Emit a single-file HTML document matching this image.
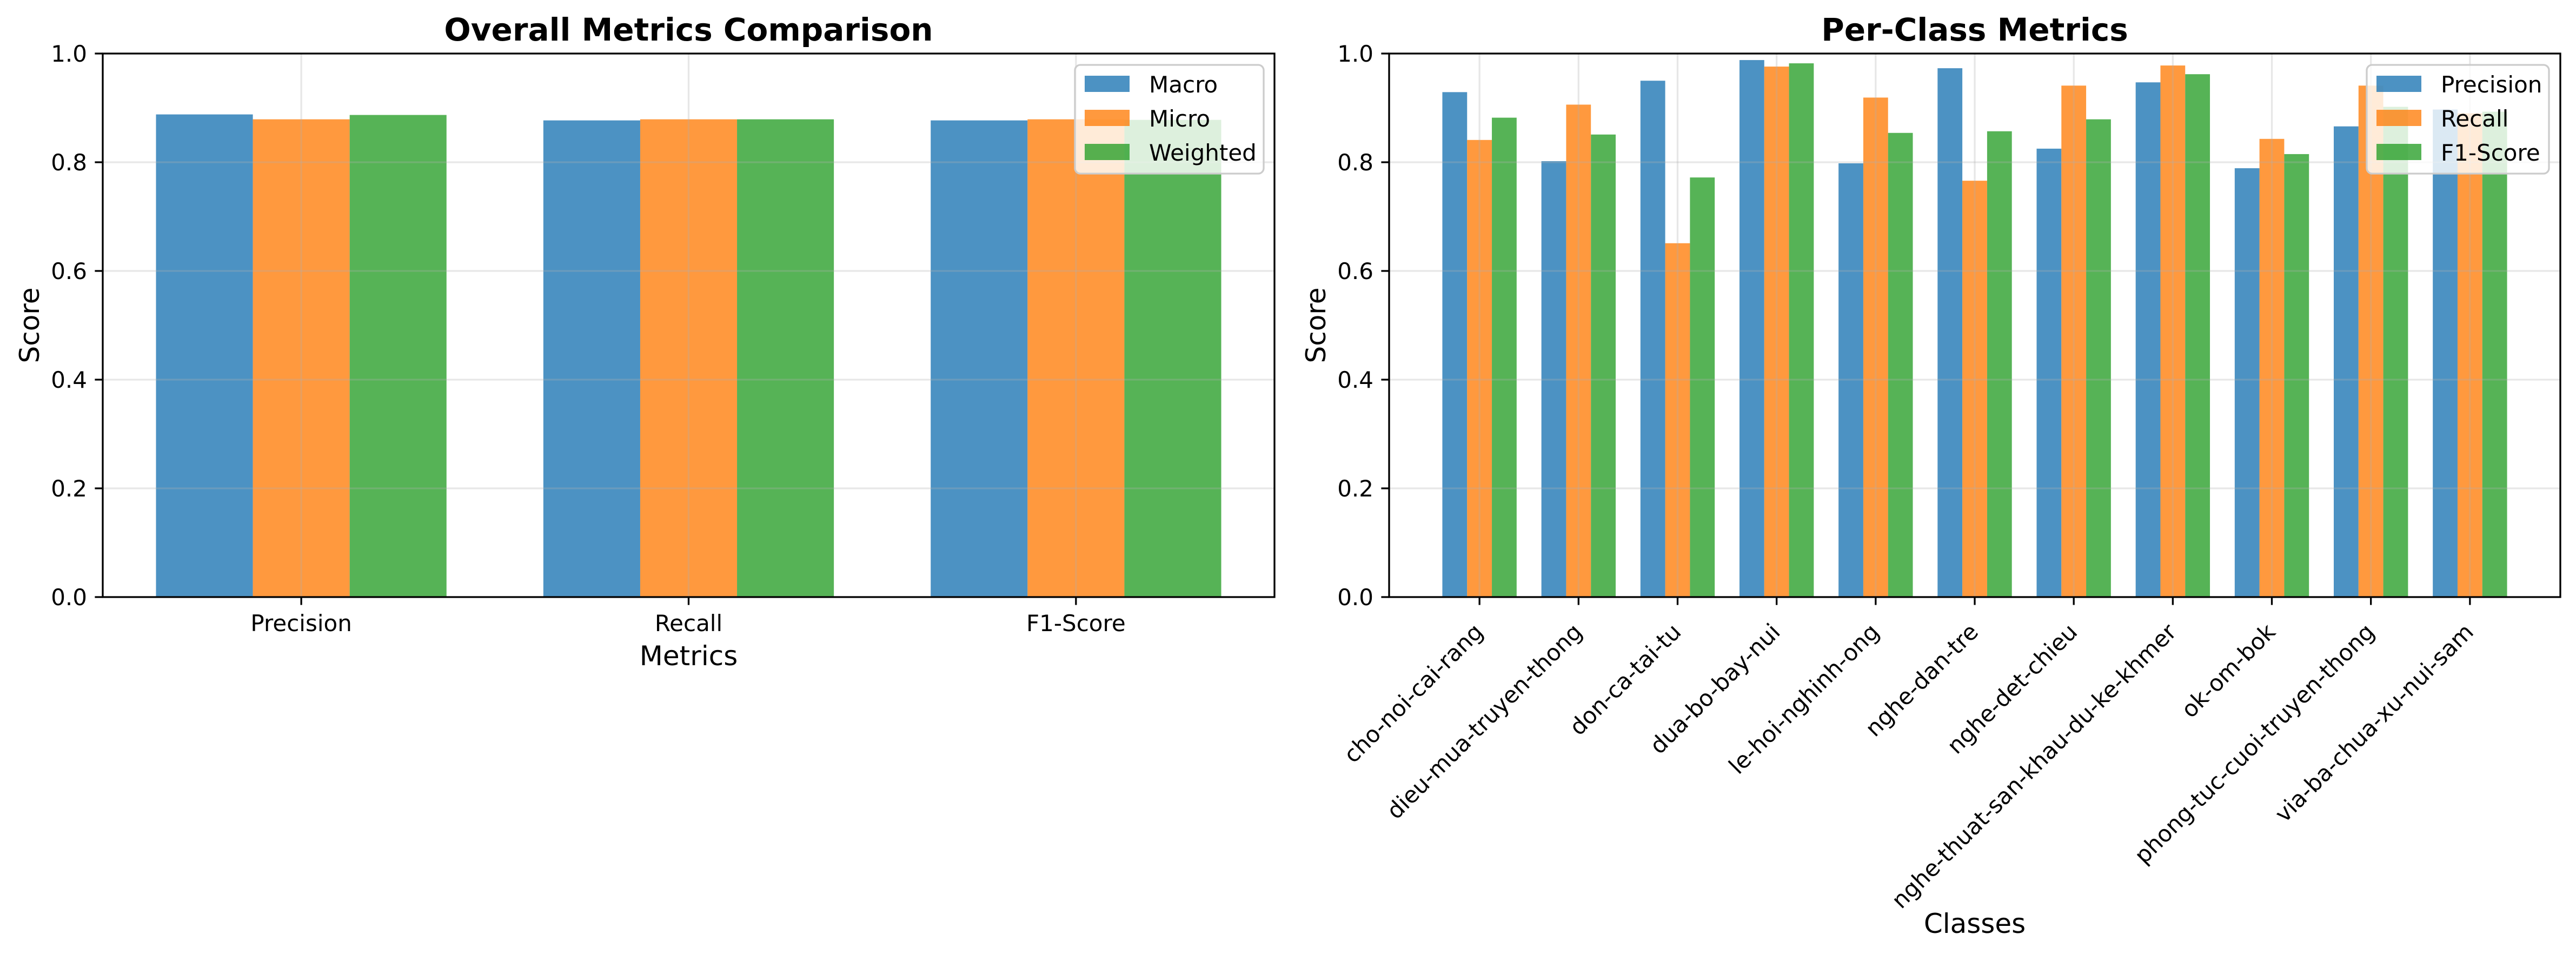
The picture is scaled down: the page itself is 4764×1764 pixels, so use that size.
<!DOCTYPE html>
<html><head><meta charset="utf-8"><style>
html,body{margin:0;padding:0;background:#fff}
svg{display:block;font-family:"DejaVu Sans","Liberation Sans",sans-serif}
</style></head><body>
<svg id="chart" width="4764" height="1764" viewBox="0 0 4764 1764" xmlns="http://www.w3.org/2000/svg"></svg>
<script>
const overallCategories = ["Precision","Recall","F1-Score"];
const overallSeriesNames = ["Macro","Micro","Weighted"];
const overallMacro = [0.888,0.877,0.877];
const overallMicro = [0.879,0.879,0.879];
const overallWeighted = [0.887,0.879,0.878];
const classCategories = ["cho-noi-cai-rang","dieu-mua-truyen-thong","don-ca-tai-tu","dua-bo-bay-nui","le-hoi-nghinh-ong","nghe-dan-tre","nghe-det-chieu","nghe-thuat-san-khau-du-ke-khmer","ok-om-bok","phong-tuc-cuoi-truyen-thong","via-ba-chua-xu-nui-sam"];
const classSeriesNames = ["Precision","Recall","F1-Score"];
const classPrecision = [0.929,0.802,0.950,0.988,0.798,0.973,0.825,0.947,0.789,0.866,0.897];
const classRecall = [0.841,0.906,0.651,0.976,0.919,0.766,0.941,0.978,0.843,0.941,0.890];
const classF1 = [0.882,0.851,0.772,0.982,0.854,0.857,0.879,0.962,0.815,0.902,0.893];
const yTicks = [0,0.2,0.4,0.6,0.8,1.0];
const yTickLabels = ["0.0","0.2","0.4","0.6","0.8","1.0"];

const NS="http://www.w3.org/2000/svg";
const svg=document.getElementById('chart');
const COLORS=["#1f77b4","#ff7f0e","#2ca02c"];
function mk(tag,attrs,parent){const e=document.createElementNS(NS,tag);for(const k in attrs)e.setAttribute(k,attrs[k]);(parent||svg).appendChild(e);return e;}

function drawPanel(o){
  const g=mk('g',{});
  
  
  const n=o.cats.length;
  const xmin=-0.375-0.05*(n-1+0.75), xmax=n-1+0.375+0.05*(n-1+0.75);
  const X=v=>o.left+(v-xmin)/(xmax-xmin)*(o.right-o.left);
  const Y=v=>o.bottom-v*(o.bottom-o.top);
  const w=X(0.25)-X(0);
  o.series.forEach((vals,si)=>{
    vals.forEach((v,i)=>{
      const x0=X(i+(si-1)*0.25-0.125);
      const r=mk('rect',{x:x0,y:Y(v),width:w,height:Y(0)-Y(v),fill:COLORS[si],'fill-opacity':0.8},g);
      
      
    });
  });
  yTicks.forEach(t=>{const l=mk('line',{x1:o.left,x2:o.right,y1:Y(t),y2:Y(t),stroke:'#b0b0b0','stroke-opacity':0.3,'stroke-width':3.3},g);
    });
  o.cats.forEach((c,i)=>{const l=mk('line',{x1:X(i),x2:X(i),y1:o.top,y2:o.bottom,stroke:'#b0b0b0','stroke-opacity':0.3,'stroke-width':3.3},g);
    });
  const sp=mk('rect',{x:o.left,y:o.top,width:o.right-o.left,height:o.bottom-o.top,fill:'none',stroke:'#000','stroke-width':3.3},g);
  
  yTicks.forEach((t,i)=>{
    mk('line',{x1:o.left-14.6,x2:o.left,y1:Y(t),y2:Y(t),stroke:'#000','stroke-width':3.3},g);
    const tx=mk('text',{x:o.left-29,y:Y(t)+15,'text-anchor':'end','font-size':42},g);
    tx.textContent=yTickLabels[i];
    
  });
  o.cats.forEach((c,i)=>{
    mk('line',{x1:X(i),x2:X(i),y1:o.bottom,y2:o.bottom+14.6,stroke:'#000','stroke-width':3.3},g);
    let tx;
    if(o.rotate){
      const ax=X(i)+9, ay=o.bottom+67;
      tx=mk('text',{x:ax,y:ay,'text-anchor':'end','font-size':42,transform:`rotate(-45 ${ax} ${ay})`},g);
    } else {
      tx=mk('text',{x:X(i),y:o.bottom+63,'text-anchor':'middle','font-size':42},g);
    }
    tx.textContent=c;
    
  });
  const cx=(o.left+o.right)/2;
  const ti=mk('text',{x:cx,y:75,'text-anchor':'middle','font-size':58,'font-weight':'bold'},g);
  ti.textContent=o.title;
  const xl=mk('text',{x:cx,y:o.xlabelY,'text-anchor':'middle','font-size':50},g);
  xl.textContent=o.xlabel;
  const ylx=o.left-118, yly=(o.top+o.bottom)/2;
  const yl=mk('text',{x:ylx,y:yly,'text-anchor':'middle','font-size':50,transform:`rotate(-90 ${ylx} ${yly})`},g);
  yl.textContent='Score';
  const lg=mk('g',{},g);
  
  mk('rect',{x:o.legX,y:120,width:o.legW,height:201,rx:10,fill:'#fff','fill-opacity':0.8,stroke:'#cccccc','stroke-width':3.3},lg);
  o.seriesNames.forEach((s,si)=>{
    const e=mk('g',{},lg);
    
    mk('rect',{x:o.legX+18,y:140+si*63,width:83,height:30,fill:COLORS[si],'fill-opacity':0.8},e);
    const t=mk('text',{x:o.legX+137,y:171+si*63,'font-size':42},e);t.textContent=s;
  });
}

drawPanel({name:'overall-metrics-panel',title:'Overall Metrics Comparison',xlabel:'Metrics',xlabelY:1230,
  cats:overallCategories,seriesNames:overallSeriesNames,series:[overallMacro,overallMicro,overallWeighted],
  left:190,right:2357,top:99,bottom:1104,rotate:false,legX:1988,legW:349});
drawPanel({name:'per-class-metrics-panel',title:'Per-Class Metrics',xlabel:'Classes',xlabelY:1725,
  cats:classCategories,seriesNames:classSeriesNames,series:[classPrecision,classRecall,classF1],
  left:2569,right:4735,top:99,bottom:1104,rotate:true,legX:4377,legW:337});
</script>
</body></html>
